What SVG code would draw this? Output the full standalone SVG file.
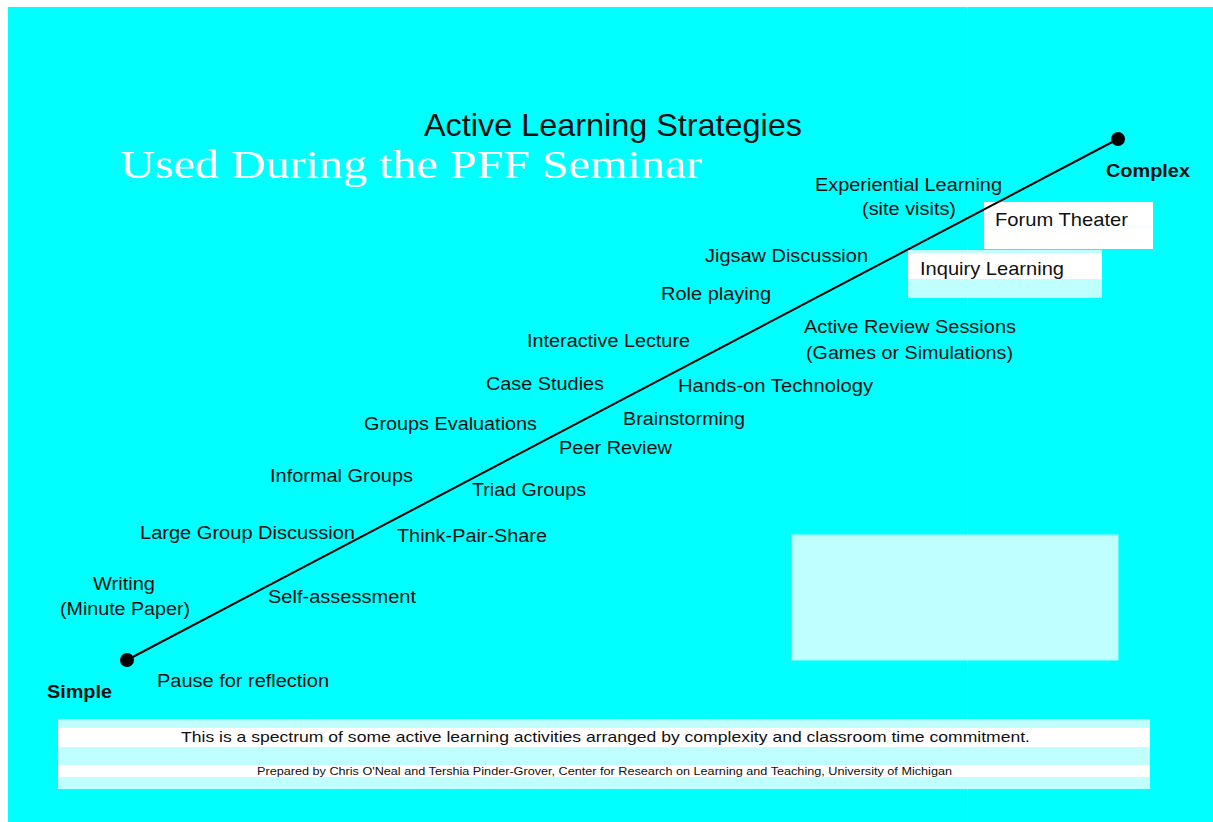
<svg xmlns="http://www.w3.org/2000/svg" width="1213" height="822" viewBox="0 0 1213 822">
  <style>
    .lbl { font-family: "Liberation Sans", Arial, sans-serif; font-size: 18px; fill: #111; }
    .box { font-family: "Liberation Sans", Arial, sans-serif; font-size: 19px; fill: #111; }
    .end { font-family: "Liberation Sans", Arial, sans-serif; font-size: 18px; font-weight: bold; fill: #111; }
    .cap { font-family: "Liberation Sans", Arial, sans-serif; fill: #111; }
  </style>

  <!-- page -->
  <rect x="0" y="0" width="1213" height="822" fill="#ffffff"/>
  <rect x="8" y="7" width="1205" height="815" fill="#00ffff"/>
  <line x1="967.5" y1="7" x2="967.5" y2="822" stroke="#7fffff" stroke-width="1" opacity="0.5"/>

  <!-- titles -->
  <g id="title">
    <text x="424" y="136" class="cap" font-size="32" textLength="378" lengthAdjust="spacingAndGlyphs">Active Learning Strategies</text>
    <text x="120" y="178" font-family="Liberation Serif, 'Times New Roman', serif" font-size="40" fill="#ffffff" textLength="582" lengthAdjust="spacingAndGlyphs">Used During the PFF Seminar</text>
  </g>

  <!-- panels -->
  <g id="panel-forum">
    <rect x="984" y="202" width="169" height="47" fill="#ffffff"/>
    <rect x="984" y="226" width="169" height="2" fill="#f0ffff"/>
  </g>
  <g id="panel-inquiry">
    <rect x="908" y="250" width="194" height="48" fill="#c0ffff"/>
    <rect x="908" y="253" width="194" height="26" fill="#ffffff"/>
  </g>
  <g id="panel-blank">
    <rect x="792" y="535" width="326" height="125" fill="#bfffff" stroke="#a8ffff" stroke-width="1"/>
  </g>

  <!-- spectrum axis -->
  <g id="connectors">
    <line x1="127" y1="660" x2="1118" y2="139" stroke="#000" stroke-width="2"/>
  </g>
  <g id="endpoint-simple">
    <circle cx="127" cy="660" r="7" fill="#000"/>
    <text x="47" y="698" class="end" textLength="65" lengthAdjust="spacingAndGlyphs">Simple</text>
  </g>
  <g id="endpoint-complex">
    <circle cx="1118" cy="139" r="7" fill="#000"/>
    <text x="1106" y="177" class="end" textLength="84" lengthAdjust="spacingAndGlyphs">Complex</text>
  </g>

  <!-- strategies -->
  <g id="experiential">
    <text x="815" y="191" class="lbl" textLength="187" lengthAdjust="spacingAndGlyphs">Experiential Learning</text>
    <text x="862" y="215" class="lbl" textLength="94" lengthAdjust="spacingAndGlyphs">(site visits)</text>
  </g>
  <g id="forum-theater"><text x="995" y="226" class="box" textLength="133" lengthAdjust="spacingAndGlyphs">Forum Theater</text></g>
  <g id="jigsaw"><text x="705" y="262" class="lbl" textLength="163" lengthAdjust="spacingAndGlyphs">Jigsaw Discussion</text></g>
  <g id="inquiry"><text x="920" y="275" class="box" textLength="144" lengthAdjust="spacingAndGlyphs">Inquiry Learning</text></g>
  <g id="role-playing"><text x="661" y="300" class="lbl" textLength="110" lengthAdjust="spacingAndGlyphs">Role playing</text></g>
  <g id="active-review">
    <text x="804" y="333" class="lbl" textLength="212" lengthAdjust="spacingAndGlyphs">Active Review Sessions</text>
    <text x="806" y="359" class="lbl" textLength="207" lengthAdjust="spacingAndGlyphs">(Games or Simulations)</text>
  </g>
  <g id="interactive-lecture"><text x="527" y="347" class="lbl" textLength="163" lengthAdjust="spacingAndGlyphs">Interactive Lecture</text></g>
  <g id="case-studies"><text x="486" y="390" class="lbl" textLength="118" lengthAdjust="spacingAndGlyphs">Case Studies</text></g>
  <g id="hands-on"><text x="678" y="392" class="lbl" textLength="195" lengthAdjust="spacingAndGlyphs">Hands-on Technology</text></g>
  <g id="brainstorming"><text x="623" y="425" class="lbl" textLength="122" lengthAdjust="spacingAndGlyphs">Brainstorming</text></g>
  <g id="groups-evaluations"><text x="364" y="430" class="lbl" textLength="173" lengthAdjust="spacingAndGlyphs">Groups Evaluations</text></g>
  <g id="peer-review"><text x="559" y="454" class="lbl" textLength="113" lengthAdjust="spacingAndGlyphs">Peer Review</text></g>
  <g id="informal-groups"><text x="270" y="482" class="lbl" textLength="143" lengthAdjust="spacingAndGlyphs">Informal Groups</text></g>
  <g id="triad-groups"><text x="472" y="496" class="lbl" textLength="114" lengthAdjust="spacingAndGlyphs">Triad Groups</text></g>
  <g id="large-group"><text x="140" y="539" class="lbl" textLength="215" lengthAdjust="spacingAndGlyphs">Large Group Discussion</text></g>
  <g id="think-pair-share"><text x="397" y="542" class="lbl" textLength="150" lengthAdjust="spacingAndGlyphs">Think-Pair-Share</text></g>
  <g id="writing">
    <text x="93" y="590" class="lbl" textLength="62" lengthAdjust="spacingAndGlyphs">Writing</text>
    <text x="60" y="615" class="lbl" textLength="130" lengthAdjust="spacingAndGlyphs">(Minute Paper)</text>
  </g>
  <g id="self-assessment"><text x="268" y="603" class="lbl" textLength="148" lengthAdjust="spacingAndGlyphs">Self-assessment</text></g>
  <g id="pause"><text x="157" y="687" class="lbl" textLength="172" lengthAdjust="spacingAndGlyphs">Pause for reflection</text></g>

  <!-- caption -->
  <g id="caption">
    <rect x="58" y="719" width="1092" height="70" fill="#c0ffff"/>
    <rect x="58" y="728" width="1092" height="19" fill="#ffffff"/>
    <rect x="58" y="765" width="1092" height="12" fill="#ffffff"/>
    <text x="181" y="742" class="cap" font-size="15" textLength="849" lengthAdjust="spacingAndGlyphs">This is a spectrum of some active learning activities arranged by complexity and classroom time commitment.</text>
    <text x="257" y="775" class="cap" font-size="10" textLength="695" lengthAdjust="spacingAndGlyphs">Prepared by Chris O'Neal and Tershia Pinder-Grover, Center for Research on Learning and Teaching, University of Michigan</text>
  </g>
</svg>
